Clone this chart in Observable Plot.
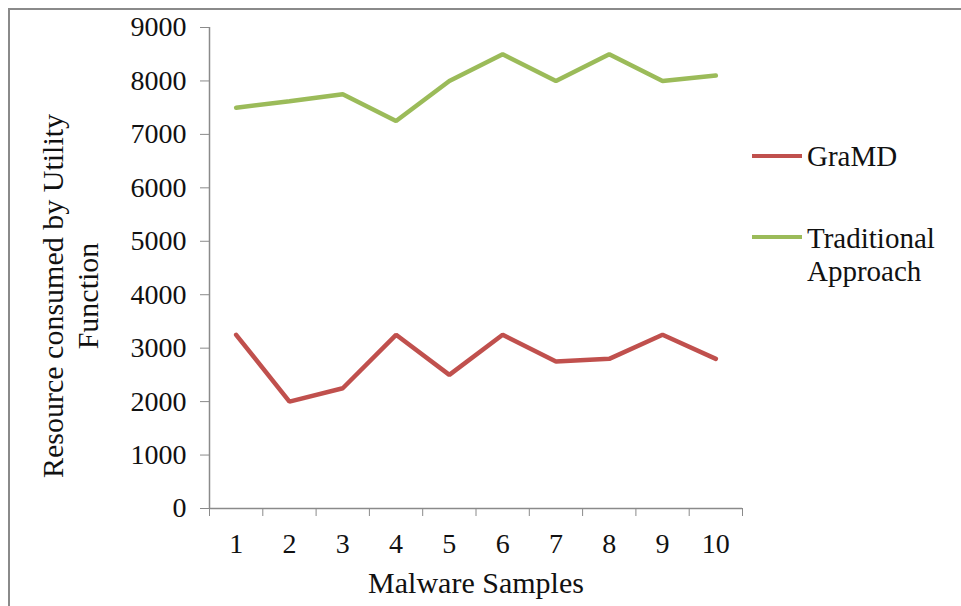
<!DOCTYPE html>
<html>
<head>
<meta charset="utf-8">
<script src="https://cdn.jsdelivr.net/npm/d3@7"></script>
<script src="https://cdn.jsdelivr.net/npm/@observablehq/plot@0.6"></script>
<style>
  html, body { margin: 0; padding: 0; background: #fff; }
  #wrap { position: relative; width: 961px; height: 606px; overflow: hidden; font-family: "Liberation Serif", "Times New Roman", serif; }
  #frame { position: absolute; left: 8px; top: 8px; width: 1000px; height: 700px; border-left: 2px solid #8a8a8a; border-top: 2px solid #8a8a8a; box-sizing: border-box; }
  #chart { position: absolute; left: 0; top: 0; }
  #chart svg text { font-family: "Liberation Serif", "Times New Roman", serif; }
  .leg { position: absolute; font-size: 29px; color: #111; line-height: 33px; }
  .sw { position: absolute; height: 4px; width: 50px; }
</style>
</head>
<body>
<div id="wrap">
  <div id="frame"></div>
  <div id="chart"></div>
</div>
<script>
const samples = [1, 2, 3, 4, 5, 6, 7, 8, 9, 10];
const gramd = [3250, 2000, 2250, 3250, 2500, 3250, 2750, 2800, 3250, 2800];
const traditional = [7500, 7620, 7750, 7250, 8000, 8500, 8000, 8500, 8000, 8100];
const yTicks = [0, 1000, 2000, 3000, 4000, 5000, 6000, 7000, 8000, 9000];
const seriesNames = ["GraMD", "Traditional Approach"];
const seriesColors = ["#c0504d", "#9bbb59"];
const xTitle = "Malware Samples";
const yTitle = "Resource consumed by Utility\nFunction";

const serif = '"Liberation Serif", "Times New Roman", serif';
const rows = [];
samples.forEach((s, i) => {
  rows.push({sample: s, value: gramd[i], series: seriesNames[0]});
  rows.push({sample: s, value: traditional[i], series: seriesNames[1]});
});
const bounds = d3.range(0.5, samples.length + 1, 1);

const plot = Plot.plot({
  width: 961,
  height: 606,
  marginLeft: 209,
  marginRight: 219,
  marginTop: 27,
  marginBottom: 98,
  style: {fontFamily: serif, background: "transparent", color: "#111"},
  x: {domain: [0.5, samples.length + 0.5]},
  y: {domain: [0, 9000]},
  color: {domain: seriesNames, range: seriesColors},
  marks: [
    Plot.ruleX([0.5], {stroke: "#8a8a8a", strokeWidth: 1.5}),
    Plot.ruleY([0], {stroke: "#8a8a8a", strokeWidth: 1.5}),
    Plot.axisY({ticks: yTicks, tickSize: 9, tickPadding: 14, stroke: "#8a8a8a", fontSize: 28, fontFamily: serif, label: null, tickFormat: d => String(d)}),
    Plot.axisX({ticks: bounds, tickSize: 8, stroke: "#8a8a8a", tickFormat: () => "", label: null}),
    Plot.axisX({ticks: samples, tickSize: 0, tickPadding: 25, fontSize: 28, fontFamily: serif, label: null, tickFormat: d => String(d)}),
    Plot.text([xTitle], {frameAnchor: "bottom", dy: 84, fontSize: 30, fontFamily: serif, fill: "#111"}),
    Plot.text([yTitle], {frameAnchor: "left", textAnchor: "middle", rotate: -90, dx: -140, dy: 28, fontSize: 30, fontFamily: serif, fill: "#111", lineHeight: 1.15}),
    Plot.line(rows, {x: "sample", y: "value", z: "series", stroke: "series", strokeWidth: 4.5, strokeLinejoin: "miter"})
  ]
});
document.getElementById("chart").appendChild(plot);

// legend
const wrap = document.getElementById("wrap");
const legPos = [{sy: 156, ty: 140}, {sy: 237, ty: 222}];
seriesNames.forEach((name, i) => {
  const sw = document.createElement("div");
  sw.className = "sw";
  sw.style.left = "752px";
  sw.style.top = (legPos[i].sy - 2) + "px";
  sw.style.background = seriesColors[i];
  wrap.appendChild(sw);
  const t = document.createElement("div");
  t.className = "leg";
  t.style.left = "807px";
  t.style.top = legPos[i].ty + "px";
  t.innerHTML = name === "Traditional Approach" ? "Traditional<br>Approach" : name;
  wrap.appendChild(t);
});
</script>
</body>
</html>
